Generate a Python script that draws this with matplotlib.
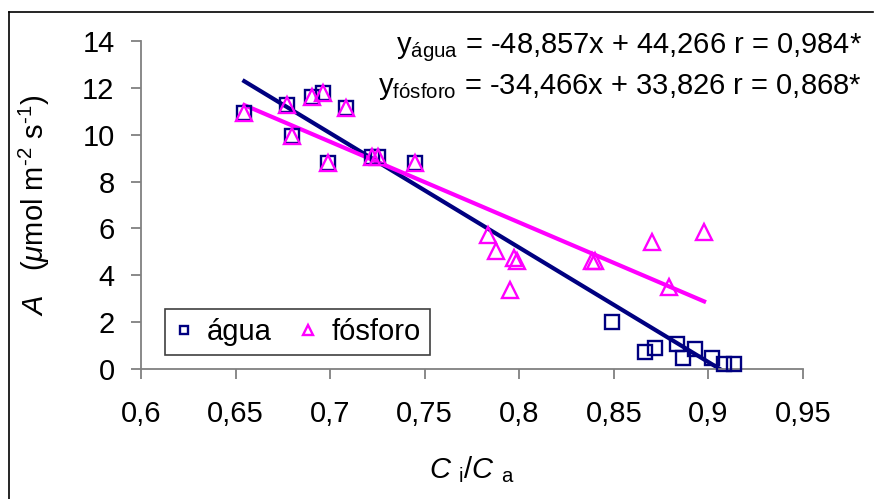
import numpy as np
import matplotlib
matplotlib.use("Agg")
import matplotlib.pyplot as plt
from matplotlib.lines import Line2D

plt.rcParams['font.family'] = ['Liberation Sans', 'DejaVu Sans']
plt.rcParams['mathtext.fontset'] = 'custom'
plt.rcParams['mathtext.rm'] = 'Liberation Sans'
plt.rcParams['mathtext.it'] = 'Liberation Sans:italic'

# Ci/Ca and net assimilation A for the two treatments
agua_x = [0.6546, 0.6773, 0.680, 0.6906, 0.6964, 0.699, 0.7086, 0.7223, 0.7255, 0.745,
          0.849, 0.8664, 0.8717, 0.8834, 0.8865, 0.893, 0.902, 0.908, 0.9135]
agua_y = [10.93, 11.27, 9.94, 11.6, 11.78, 8.79, 11.14, 9.05, 9.05, 8.79,
          2.0, 0.73, 0.9, 1.07, 0.47, 0.85, 0.47, 0.2, 0.2]

fosforo_x = [0.6546, 0.6773, 0.680, 0.6906, 0.6964, 0.699, 0.7086, 0.7223, 0.7255, 0.745,
             0.7833, 0.7875, 0.797, 0.799, 0.795, 0.8383, 0.840, 0.870, 0.879, 0.8977]
fosforo_y = [10.93, 11.27, 9.94, 11.6, 11.78, 8.79, 11.14, 9.05, 9.05, 8.79,
             5.72, 5.04, 4.74, 4.61, 3.37, 4.61, 4.61, 5.42, 3.5, 5.85]

# linear fits as given in the equations
agua_fit = (-48.857, 44.266, 0.984)
fosforo_fit = (-34.466, 33.826, 0.868)

x_ticks = [0.6, 0.65, 0.7, 0.75, 0.8, 0.85, 0.9, 0.95]
y_ticks = [0, 2, 4, 6, 8, 10, 12, 14]

navy = '#000080'
magenta = '#FF00FF'

W, H = 875, 499
fig = plt.figure(figsize=(W / 100, H / 100), dpi=100)
ax = fig.add_axes([141 / W, (H - 369) / H, (803 - 141) / W, (369 - 41) / H])

def fmt(v, nd):
    return f"{v:.{nd}f}".replace('.', ',')

# trendlines
for (xs, fit, col) in [(agua_x, agua_fit, navy), (fosforo_x, fosforo_fit, magenta)]:
    xx = np.array([min(xs), max(xs)])
    ax.plot(xx, fit[0] * xx + fit[1], color=col, lw=3, zorder=2, clip_on=True)

ax.plot(agua_x, agua_y, ls='none', marker='s', ms=10, mfc='none', mec=navy, mew=1.7,
        label='água', zorder=3, clip_on=False)
ax.plot(fosforo_x, fosforo_y, ls='none', marker='^', ms=11, mfc='none', mec=magenta, mew=1.7,
        label='fósforo', zorder=4, clip_on=False)

ax.set_xlim(0.6, 0.95)
ax.set_ylim(0, 14)
ax.set_xticks(x_ticks)
ax.set_yticks(y_ticks)
ax.set_xticklabels([fmt(t, 2).rstrip('0') for t in x_ticks])
ax.set_yticklabels([str(t) for t in y_ticks])

for s in ['top', 'right']:
    ax.spines[s].set_visible(False)
for s in ['left', 'bottom']:
    ax.spines[s].set_color('#808080')
    ax.spines[s].set_linewidth(1.3)
ax.tick_params(axis='both', direction='out', length=7, width=1.3, color='#808080',
               labelsize=21)
ax.tick_params(axis='y', pad=12)
ax.tick_params(axis='x', pad=15)

ax.set_ylabel(r'$\mathit{A}$   ($\mu$mol m$^{\text{-2}}$ s$^{\text{-1}}$)', fontsize=21)
ax.yaxis.set_label_coords(-0.135, 0.5)
ax.set_xlabel(r'$\mathit{C}$ $_{\mathregular{i}}$/$\mathit{C}$ $_{\mathregular{a}}$', fontsize=21)
ax.xaxis.set_label_coords(0.5, -0.26)

leg = ax.legend(loc='lower left', bbox_to_anchor=(0.036, 0.043), borderaxespad=0,
                ncol=2, fontsize=21, markerscale=0.6, handlelength=0.7,
                handletextpad=0.45, columnspacing=0.9, fancybox=False,
                edgecolor='#404040', framealpha=1, borderpad=0.3)
leg.get_frame().set_linewidth(1.2)

eq1 = (r'$\mathregular{y_{água}}$ = ' + fmt(agua_fit[0], 3) + 'x + ' + fmt(agua_fit[1], 3)
       + ' r = ' + fmt(agua_fit[2], 3) + '*')
eq2 = (r'$\mathregular{y_{fósforo}}$ = ' + fmt(fosforo_fit[0], 3) + 'x + ' + fmt(fosforo_fit[1], 3)
       + ' r = ' + fmt(fosforo_fit[2], 3) + '*')
fig.text(862 / W, 1 - 53 / H, eq1, ha='right', va='baseline', fontsize=21)
fig.text(862 / W, 1 - 94 / H, eq2, ha='right', va='baseline', fontsize=21)

# chart border (top and left edges)
fig.add_artist(Line2D([9 / W, 873 / W], [1 - 12 / H, 1 - 12 / H], color='black', lw=1.2))
fig.add_artist(Line2D([9 / W, 9 / W], [1 - 12 / H, 0], color='black', lw=1.2))

fig.savefig('out.png', dpi=100)
